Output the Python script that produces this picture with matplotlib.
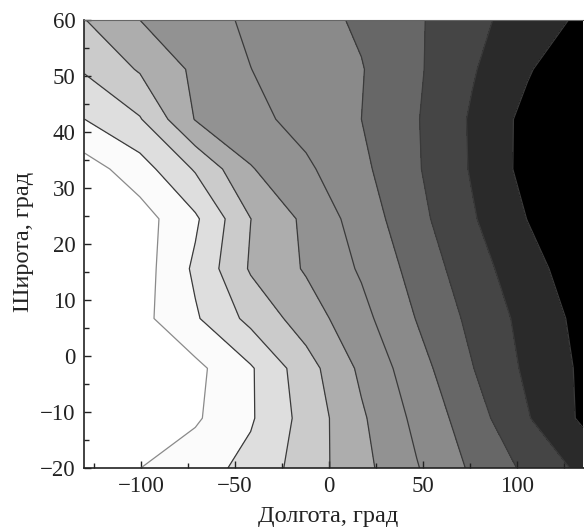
import numpy as np
import matplotlib
matplotlib.use("Agg")
import matplotlib.pyplot as plt
from matplotlib.ticker import MultipleLocator

# grid nodes (longitude / latitude, degrees)
lon = [-130.0, -100.56, -71.11, -41.67, -12.22, 17.22, 46.67, 76.11, 105.56, 135.0]
lat = [-20.0, -11.11, -2.22, 6.67, 15.56, 24.44, 33.33, 42.22, 51.11, 60.0]

# field values (rows = latitude, cols = longitude)
z_row_m20 = [0.40, 0.99, 1.57, 2.30, 3.47, 4.70, 5.94, 7.15, 8.21, 9.25]
z_row_m11 = [0.00, 0.00, 0.87, 1.89, 3.37, 4.86, 6.25, 7.53, 8.93, 10.17]
z_row_m2 = [0.00, 0.00, 0.75, 1.89, 3.59, 5.20, 6.60, 7.96, 9.19, 10.17]
z_row_7 = [0.00, 0.70, 1.88, 3.28, 4.49, 5.70, 7.04, 8.24, 9.33, 10.30]
z_row_16 = [0.00, 0.51, 2.18, 4.11, 5.10, 6.12, 7.37, 8.57, 9.62, 10.60]
z_row_24 = [0.00, 0.56, 1.84, 3.99, 5.22, 6.46, 7.70, 8.90, 10.02, 11.00]
z_row_33 = [0.53, 1.56, 3.10, 4.93, 5.83, 6.78, 7.90, 9.09, 10.33, 11.50]
z_row_42 = [2.00, 2.93, 5.05, 5.71, 6.35, 7.00, 7.94, 9.12, 10.30, 11.50]
z_row_51 = [3.10, 4.10, 5.19, 5.99, 6.47, 6.95, 7.86, 8.91, 9.90, 10.88]
z_row_60 = [3.98, 5.01, 5.60, 6.16, 6.63, 7.15, 7.87, 8.72, 9.47, 10.18]

levels = [-1, 1, 2, 3, 4, 5, 6, 7, 8, 9, 10, 13]
band_colors = ['#ffffff', '#fbfbfb', '#dedede', '#cbcbcb', '#adadad', '#929292',
               '#8a8a8a', '#676767', '#454545', '#2a2a2a', '#000000']

Z = np.array([z_row_m20, z_row_m11, z_row_m2, z_row_7, z_row_16,
              z_row_24, z_row_33, z_row_42, z_row_51, z_row_60])

plt.rcParams['font.family'] = ['Liberation Serif', 'DejaVu Serif']

fig = plt.figure(figsize=(5.84, 5.30), dpi=100)
ax = fig.add_axes([84 / 584, 1 - 468 / 530, 500 / 584, 448.5 / 530])

ax.contourf(lon, lat, Z, levels=levels, colors=band_colors)
ax.contour(lon, lat, Z, levels=[1], colors='#8a8a8a', linewidths=0.9)
ax.contour(lon, lat, Z, levels=levels[2:-1], colors='#3a3a3a', linewidths=0.9)

ax.set_xlim(-130.3, 135.6)
ax.set_ylim(-20, 60)
ax.xaxis.set_major_locator(MultipleLocator(50))
ax.xaxis.set_minor_locator(MultipleLocator(25))
ax.yaxis.set_major_locator(MultipleLocator(10))
ax.yaxis.set_minor_locator(MultipleLocator(5))
ax.tick_params(which='both', direction='in', top=False, right=False,
               labelsize=16.5, colors='#222222')
ax.tick_params(which='major', length=5, width=1.0, pad=6)
ax.tick_params(which='minor', length=3.5, width=1.0)

ax.spines['right'].set_visible(False)
for s in ['left', 'bottom']:
    ax.spines[s].set_linewidth(1.2)
    ax.spines[s].set_color('#222222')
ax.spines['top'].set_linewidth(0.8)
ax.spines['top'].set_color('#666666')

ax.set_xlabel('Долгота, град', fontsize=17.5, color='#222222')
ax.set_ylabel('Широта, град', fontsize=17.5, color='#222222')
ax.xaxis.set_label_coords((328 - 84) / 500, -(506 - 468) / 448.5)
ax.yaxis.set_label_coords(-(84 - 34) / 500, (468 - 242) / 448.5)

fig.savefig('out.png', dpi=100)
